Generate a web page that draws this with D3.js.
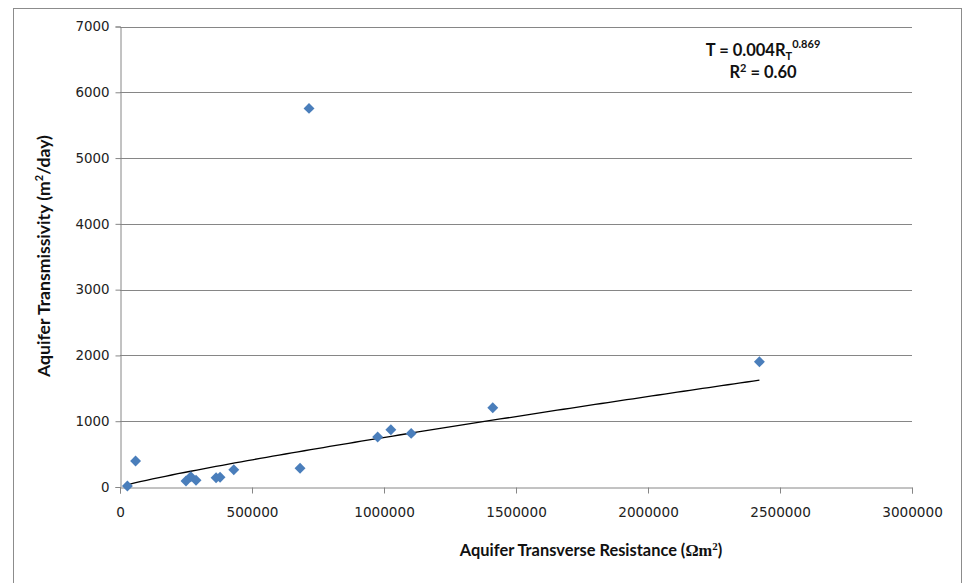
<!DOCTYPE html>
<html>
<head>
<meta charset="utf-8">
<script src="https://cdn.jsdelivr.net/npm/d3@7/dist/d3.min.js"></script>
<style>
  html, body { margin: 0; padding: 0; background: #fff; }
  svg { display: block; }
</style>
</head>
<body>
<svg id="chart" width="964" height="583"></svg>
<script>
// Observations: transverse resistance (Ωm²) vs transmissivity (m²/day)
const resistance = [28000, 59000, 250000, 268000, 288000, 364000, 379000, 431000,
                    682000, 716000, 976000, 1026000, 1103000, 1412000, 2422000];
const transmissivity = [15, 395, 91, 157, 102, 141, 147, 263,
                        284, 5755, 759, 870, 815, 1204, 1903];

// Power-law trend  T = a * R^b
const trendCoef = 0.0046;
const trendExp = 0.869;

const xTicks = [0, 500000, 1000000, 1500000, 2000000, 2500000, 3000000];
const yTicks = [0, 1000, 2000, 3000, 4000, 5000, 6000, 7000];

const svg = d3.select("#chart");
const plot = { left: 120, right: 912, top: 26.5, bottom: 487 };

// outer chart frame
svg.append("rect")
  .attr("x", 13.5).attr("y", 8.5)
  .attr("width", 948).attr("height", 600)
  .attr("fill", "#fff").attr("stroke", "#8c8c8c").attr("stroke-width", 1);

const x = d3.scaleLinear().domain([0, 3000000]).range([plot.left, plot.right]);
const y = d3.scaleLinear().domain([0, 7000]).range([plot.bottom, plot.top]);

const gridColor = "#868686";
const tickFont = "'DejaVu Sans', Verdana, sans-serif";

// horizontal gridlines
svg.append("g")
  .selectAll("line")
  .data(yTicks.filter(d => d > 0))
  .join("line")
  .attr("x1", plot.left).attr("x2", plot.right)
  .attr("y1", d => Math.round(y(d)) + 0.5).attr("y2", d => Math.round(y(d)) + 0.5)
  .attr("stroke", gridColor).attr("stroke-width", 1);

// y axis
const yAxis = svg.append("g")
  .attr("transform", `translate(${plot.left + 0.5},0)`)
  .call(d3.axisLeft(y).tickValues(yTicks).tickSize(5).tickPadding(6)
        .tickFormat(d3.format("d")));
yAxis.select(".domain").attr("stroke", gridColor);
yAxis.selectAll(".tick line").attr("stroke", gridColor);
yAxis.selectAll(".tick text")
  .attr("font-family", tickFont).attr("font-size", 13.4).attr("fill", "#222");

// x axis
const xAxis = svg.append("g")
  .attr("transform", `translate(0,${Math.round(plot.bottom) + 0.5})`)
  .call(d3.axisBottom(x).tickValues(xTicks).tickSize(6).tickPadding(14)
        .tickFormat(d3.format("d")));
xAxis.select(".domain").attr("stroke", gridColor);
xAxis.selectAll(".tick line").attr("stroke", gridColor);
xAxis.selectAll(".tick text")
  .attr("font-family", tickFont).attr("font-size", 13.6).attr("fill", "#222");

// trend line across the observed range
const rMin = d3.min(resistance), rMax = d3.max(resistance);
const trendPts = d3.range(0, 101).map(i => {
  const r = rMin + (rMax - rMin) * i / 100;
  return [r, trendCoef * Math.pow(r, trendExp)];
});
svg.append("path")
  .datum(trendPts)
  .attr("fill", "none")
  .attr("stroke", "#000")
  .attr("stroke-width", 1.3)
  .attr("d", d3.line().x(d => x(d[0])).y(d => y(d[1])));

// data markers (diamonds)
const diamond = d3.symbol().type(d3.symbolDiamond2).size(76);
svg.append("g")
  .selectAll("path")
  .data(resistance.map((r, i) => [r, transmissivity[i]]))
  .join("path")
  .attr("transform", d => `translate(${x(d[0])},${y(d[1])})`)
  .attr("d", diamond)
  .attr("fill", "#4a7ebb");

// axis titles
const titleFont = "Lato, 'Open Sans', sans-serif";
const xt = svg.append("text")
  .attr("x", 591).attr("y", 556)
  .attr("text-anchor", "middle")
  .attr("font-family", titleFont).attr("font-weight", "bold")
  .attr("font-size", 16.4).attr("fill", "#111");
xt.append("tspan").text("Aquifer Transverse Resistance (");
xt.append("tspan").attr("font-family", "'Liberation Serif', serif").text("Ωm");
xt.append("tspan").attr("font-family", "'Liberation Serif', serif")
  .attr("font-size", 11).attr("dy", -6).text("2");
xt.append("tspan").attr("dy", 6).text(")");

const yt = svg.append("text")
  .attr("transform", "translate(50,256) rotate(-90)")
  .attr("text-anchor", "middle")
  .attr("font-family", titleFont).attr("font-weight", "bold")
  .attr("font-size", 17.6).attr("fill", "#111");
yt.append("tspan").text("Aquifer Transmissivity (m");
yt.append("tspan").attr("font-size", 11).attr("dy", -7).text("2");
yt.append("tspan").attr("dy", 7).text("/day)");

// equation annotation
const eq = svg.append("text")
  .attr("x", 763).attr("y", 56)
  .attr("text-anchor", "middle")
  .attr("font-family", titleFont).attr("font-weight", "bold")
  .attr("font-size", 16.5).attr("fill", "#111");
eq.append("tspan").text("T = 0.004R");
eq.append("tspan").attr("font-size", 11).attr("dy", 4).text("T");
eq.append("tspan").attr("font-size", 11).attr("dy", -12).text("0.869");

const r2 = svg.append("text")
  .attr("x", 763).attr("y", 78)
  .attr("text-anchor", "middle")
  .attr("font-family", titleFont).attr("font-weight", "bold")
  .attr("font-size", 16.5).attr("fill", "#111");
r2.append("tspan").text("R");
r2.append("tspan").attr("font-size", 11).attr("dy", -6).text("2");
r2.append("tspan").attr("dy", 6).text(" = 0.60");
</script>
</body>
</html>
